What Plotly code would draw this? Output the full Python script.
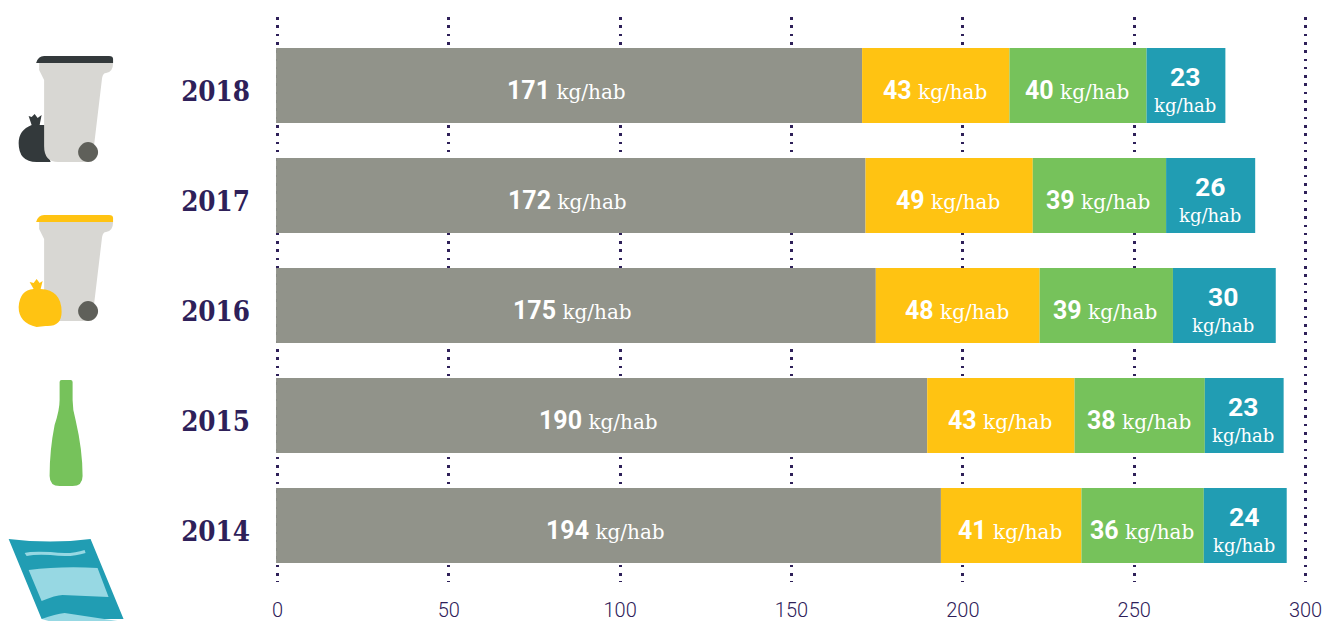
import re
import plotly.graph_objects as go

years = ["2014", "2015", "2016", "2017", "2018"]
residual = [194, 190, 175, 172, 171]
packaging = [41, 43, 48, 49, 43]
glass = [36, 38, 39, 39, 40]
paper = [24, 23, 30, 26, 23]
x_ticks = [0, 50, 100, 150, 200, 250, 300]

# drawn lengths: a little finer than the rounded printed labels
residual_len = [194, 190, 175, 172, 171]
packaging_len = [41, 43, 47.8, 48.8, 43]
glass_len = [35.7, 38, 38.9, 38.9, 40]
paper_len = [24.2, 23, 30, 26, 23]

W, H = 1327, 621
UNIT = 1029 / 300
L, R, T, B = 277 - UNIT, 21 - UNIT, 17, 39
PW, PH = W - L - R, H - T - B
INK = "#2e2059"
SERIF = "DejaVu Serif"
NUM = "Roboto"
START = -0.4


def lab(v, wrap=False):
    sep = "<br>" if wrap else " "
    unit_size = 18 if wrap else 20
    num_size = 26.5 if wrap else 25
    return (f'<span style="font-family:{NUM};font-size:{num_size}px"><b>{v}</b></span>{sep}'
            f'<span style="font-family:{SERIF};font-size:{unit_size}px">kg/hab</span>')


fig = go.Figure()
annotations = []
running = [START] * 5
for name, disp, vals, col, wrap, xs, ys in [
    ("Ordures ménagères", residual, residual_len, "#91938a", False, -3, -5),
    ("Emballages", packaging, packaging_len, "#ffc312", False, -1, -5),
    ("Verre", glass, glass_len, "#76c25b", False, -1, -5),
    ("Papier", paper, paper_len, "#219db3", True, -1, -3),
]:
    fig.add_trace(go.Bar(
        y=list(range(5)), x=vals, orientation="h", name=name,
        base=list(running),
        marker=dict(color=col, line=dict(width=0)),
        cliponaxis=False, hoverinfo="skip",
    ))
    for i, (d, v) in enumerate(zip(disp, vals)):
        annotations.append(dict(
            x=running[i] + v / 2, y=i, xref="x", yref="y", text=lab(d, wrap),
            showarrow=False, xanchor="center", yanchor="middle", xshift=xs, yshift=ys,
            font=dict(color="#ffffff", size=20, family=SERIF),
        ))
        running[i] += v


def conv(path):
    out, isx = [], True
    for tok in re.findall(r"[A-Za-z]|-?\d+\.?\d*", path):
        if tok.isalpha():
            out.append(tok)
            isx = True
        else:
            v = float(tok)
            out.append(f"{(v - L) / PW:.5f}" if isx else f"{1 - (v - T) / PH:.5f}")
            isx = not isx
    return " ".join(out)


def shp(path, color):
    return dict(type="path", xref="paper", yref="paper", path=conv(path),
                fillcolor=color, line=dict(width=0), layer="above")


def bin_shapes(dx, dy, lid):
    def p(s):
        toks = re.findall(r"[A-Za-z]|-?\d+\.?\d*", s)
        r, isx = [], True
        for t in toks:
            if t.isalpha():
                r.append(t); isx = True
            else:
                r.append(str(float(t) + (dx if isx else dy))); isx = not isx
        return " ".join(r)
    return [
        shp(p("M39 63 L113 63 Q113 72 106 73 Q103 73 102 78 L92 162 L58 162 Q44 162 44 146 L44 80 Q41 74 39 70 Z"), "#d8d7d3"),
        shp(p("M36 63 Q38 56 44 56 L109 56 Q113 56 113 59 L113 63 Z"), lid),
        shp(p("M98 152 C98 158 93 162 88 162 C83 162 78 158 78 152 C78 147 83 142 88 142 C93 142 98 147 98 152 Z"), "#5f605a"),
    ]


shapes = []
shapes.append(shp("M28 116 L31 117 L34 114 L37 118 L41 115 L39 125 L46 125 L46 150 L50 162 L36 162 Q18 162 18 143 Q18 130 31 125 Z", "#33393b"))
shapes += bin_shapes(-0.5, 0, "#33393b")
shapes += bin_shapes(-0.5, 159, "#ffc312")
shapes.append(shp("M29 282 L33 283 L36 279 L39 283 L42 281 L40 289 Q61 290 61 312 Q61 327 45 326 L36 327 Q18 323 18 307 Q19 290 33 289 Z", "#ffc312"))
shapes.append(shp("M61 380 L70 380 Q72 380 72 382 L72 400 Q72 410 75 420 Q82 450 82 476 Q82 486 72 486 L59 486 Q49 486 49 476 Q49 450 54 425 Q59 410 59 400 L59 382 Q59 380 61 380 Z", "#76c25b"))
shapes.append(shp("M8 539 Q50 544 90 539 L123 619 L41 619 Z", "#219db3"))
shapes.append(shp("M24 553 Q30 551 50 552 Q70 555 84 550 L85 553 Q70 558 50 555 Q35 554 26 556 Z", "#97d8e3"))
shapes.append(shp("M28 570 Q60 566 97 568 L108 597 L62 595 Q55 595 41 601 Z", "#97d8e3"))
shapes.append(shp("M41 619 Q55 614 64 613 L117 621 L48 621 Z", "#97d8e3"))

fig.update_layout(
    width=W, height=H, autosize=False,
    margin=dict(l=L, r=R, t=T, b=B, autoexpand=False),
    barmode="overlay", bargap=35 / 110,
    showlegend=False,
    paper_bgcolor="#ffffff", plot_bgcolor="#ffffff",
    shapes=shapes, annotations=annotations,
    xaxis=dict(
        range=[-1, 301], tickvals=x_ticks, ticks="", side="bottom", automargin=False,
        showline=False, zeroline=False, showgrid=True,
        gridcolor=INK, gridwidth=2.6, griddash="2.6px,5.7px",
        ticklabelstandoff=14,
        tickfont=dict(family="Roboto", size=20, color=INK, weight=300),
    ),
    yaxis=dict(
        range=[-0.514, 4.623], tickmode="array",
        tickvals=[i - 5.5 / 110 for i in range(5)], ticktext=years,
        ticks="", showline=False, zeroline=False, showgrid=False, automargin=False,
        ticklabelstandoff=23,
        tickfont=dict(family="DejaVu Serif Condensed", size=27.5, color=INK, weight=700),
    ),
)
fig.write_html("out.html", config={"displayModeBar": False},
               post_script="document.body.style.margin='0';document.documentElement.style.overflow='hidden';")
